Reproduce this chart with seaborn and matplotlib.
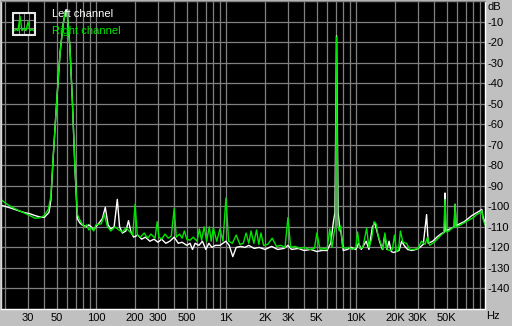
import matplotlib
matplotlib.use("Agg")
import matplotlib.pyplot as plt
import pandas as pd
import seaborn as sns

# ---------------- data ----------------
R_freq = [18.6, 20, 22, 25, 28, 31, 34, 37, 40, 43, 45, 47, 50, 53, 56, 58.5, 60, 63, 66, 69,
          72, 75, 78, 82, 85, 88, 92, 96, 100, 110, 116, 122, 130, 140, 150, 160, 170, 180,
          192, 200, 208, 220, 235, 250, 265, 285, 296, 305, 320, 340, 360, 380, 400, 415,
          440, 460, 479, 500, 530, 560, 600, 625, 650, 680, 710, 745, 770, 800, 850, 900,
          950, 1000, 1050, 1120, 1200, 1280, 1360, 1430, 1500, 1560, 1640, 1720, 1790, 1860,
          1950, 2100, 2270, 2450, 2650, 2850, 3000, 3150, 3400, 3700, 4000, 4400, 4800, 5010,
          5300, 5700, 6000, 6300, 6550, 6800, 6950, 7100, 7250, 7450, 7650, 7900, 8300, 8800,
          9400, 10000, 10300, 10700, 11300, 12100, 12600, 13200, 13800, 14300, 14800, 15500,
          16200, 16700, 17400, 18300, 19100, 19800, 20500, 21300, 22000, 23000, 24500, 26000,
          28000, 30000, 32000, 34000, 35600, 37000, 40000, 43000, 46000, 47500, 48500, 49500,
          52000, 55000, 57000, 58000, 59000, 62000, 66000, 70000, 75000, 80000, 85000, 88000,
          91000, 93000, 95000, 98500]
R_db = [-96.7, -98.3, -100, -101.8, -103.2, -104.5, -105.8, -105.6, -104.5, -101.5, -95, -75,
        -48, -25, -11, -5, -5.5, -22, -50, -82, -104, -106.5, -108.5, -110, -109, -111.5,
        -110.5, -112, -109, -108.5, -104, -109.5, -112, -110, -111.5, -112.5, -110.5, -112,
        -114, -99, -114, -115, -113, -115.5, -113.5, -115.5, -107.5, -115, -116, -113.5,
        -115.5, -114.5, -101, -115, -113.5, -115.5, -112, -116, -116.5, -115, -117, -111,
        -116.5, -110, -117, -110, -117, -110.5, -117, -111, -117, -96, -117, -118, -114,
        -118.5, -118, -113, -118, -112, -118, -111.5, -118.5, -113, -119, -118.5, -115.5,
        -119.5, -119, -120, -105.5, -120, -119.5, -120.5, -120, -121, -120.5, -113, -121,
        -120.5, -121, -111, -120, -113, -110, -17.5, -109, -112, -109.5, -120, -120.5, -120,
        -121, -120, -112.5, -120.5, -120, -110.7, -120, -116, -107.5, -108.5, -114, -118,
        -121, -113, -121, -121.5, -121, -114, -122, -121, -112, -117.5, -118, -121, -121,
        -120.5, -117, -118.5, -115, -119, -117.5, -115.5, -113.5, -113, -96.6, -112.5, -112,
        -110.5, -110, -99, -110, -109.5, -108.5, -107.5, -106.5, -105.5, -104, -103.5, -103,
        -102, -106, -109]

L_freq = [18.6, 20, 22, 25, 28, 31, 34, 37, 40, 42, 43.5, 45, 47, 50, 53, 56, 58.5, 60, 63, 66,
          69, 72, 75, 78, 82, 85, 88, 92, 96, 100, 106, 112, 118, 124, 130, 138, 146, 152, 160,
          170, 178, 186, 195, 210, 225, 240, 260, 280, 300, 320, 345, 370, 400, 430, 460, 500,
          530, 553, 580, 620, 660, 700, 740, 780, 830, 900, 950, 1000, 1060, 1130, 1200, 1300,
          1400, 1500, 1650, 1800, 2000, 2250, 2500, 2800, 3000, 3200, 3600, 4000, 4500, 5000,
          5500, 6000, 6400, 6700, 6900, 7100, 7300, 7500, 7700, 8000, 8600, 9200, 10000, 10500,
          11000, 12000, 12600, 13400, 14000, 14500, 15200, 16000, 16700, 17300, 18000, 18700,
          19500, 20500, 21500, 22500, 23500, 25000, 27000, 29000, 31000, 33000, 35000, 36000,
          39000, 42000, 45000, 48000, 48500, 49200, 53000, 57000, 58000, 59000, 63000, 68000,
          73000, 78000, 83000, 88000, 91000, 93000, 95000, 98500]
L_db = [-99.5, -100, -100.8, -102, -103, -103.6, -104.5, -105.2, -105.4, -104, -103, -97, -75,
        -48, -25, -11, -4.5, -5, -22, -50, -82, -106, -108, -109, -109.5, -110, -109, -110,
        -111.5, -110, -108, -106, -100.5, -109, -111, -110, -96.6, -110, -113, -112, -107,
        -112.5, -115, -114, -116, -115, -117, -116, -117.5, -116, -118, -117, -115, -118,
        -117.5, -119, -118, -121, -118, -119, -117, -121, -118, -120, -119, -119, -118, -117,
        -119, -124.5, -120, -119.5, -120, -119, -120.5, -120, -121, -119.5, -121, -120.5,
        -119, -121, -120.5, -121.5, -121, -122, -121.5, -121.5, -118, -108, -103, -17, -103,
        -110, -113, -121.5, -121, -120, -121, -118, -121, -117, -121, -110, -108, -112, -117,
        -121, -114, -121, -117, -122, -122.5, -122, -121.5, -117, -119, -121, -121.5, -121,
        -120, -118.5, -104, -118, -117, -115, -113.5, -112.5, -93.5, -112, -111, -110, -99,
        -109.5, -108.5, -107.5, -106, -104.5, -103.5, -102.5, -102, -101.5, -105, -108]

x_grid = [20, 30, 40, 50, 60, 70, 80, 90, 100, 200, 300, 400, 500, 600, 700, 800, 900,
          1000, 2000, 3000, 4000, 5000, 6000, 7000, 8000, 9000, 10000, 20000, 30000, 40000,
          50000, 60000, 70000, 80000, 90000]
x_labels = {30: "30", 50: "50", 100: "100", 200: "200", 300: "300", 500: "500",
            1000: "1K", 2000: "2K", 3000: "3K", 5000: "5K", 10000: "10K",
            20000: "20K", 30000: "30K", 50000: "50K"}
y_ticks = [-10, -20, -30, -40, -50, -60, -70, -80, -90, -100, -110, -120, -130, -140]
series_names = ["Left channel", "Right channel"]
icon_y = [0.2, 0.25, 0.2, 0.85, 0.2, 0.3, 0.2, 0.6, 0.2, 0.25, 0.2]

# ---------------- styling ----------------
sns.set_theme(style="dark")
plt.rcParams["font.family"] = ["Liberation Sans", "DejaVu Sans"]

BG = "#c0c0c0"
GRID = "#808080"
WHITE = "#ffffff"
GREEN = "#00e600"

W, H = 512, 326
fig = plt.figure(figsize=(W / 100, H / 100), dpi=100, facecolor=BG)
ax = fig.add_axes([1 / W, 17 / H, 484 / W, 308 / H])
ax.set_facecolor("black")
ax.set_xscale("log")

df_L = pd.DataFrame({"freq": L_freq, "db": L_db})
df_R = pd.DataFrame({"freq": R_freq, "db": R_db})
sns.lineplot(data=df_L, x="freq", y="db", ax=ax, color=WHITE, lw=1.0, estimator=None)
sns.lineplot(data=df_R, x="freq", y="db", ax=ax, color=GREEN, lw=1.0, estimator=None)

ax.set_xlim(18.6, 98500)
ax.set_ylim(-150, 0)
ax.set_xticks(x_grid, labels=[x_labels.get(v, "") for v in x_grid])
ax.xaxis.set_minor_locator(matplotlib.ticker.NullLocator())
ax.set_yticks(y_ticks, labels=[str(v) for v in y_ticks])
ax.yaxis.tick_right()
ax.tick_params(axis="both", length=0, labelsize=8, labelcolor="black")
ax.tick_params(axis="x", pad=3)
ax.tick_params(axis="y", pad=2)
ax.set_xlabel("")
ax.set_ylabel("")
ax.grid(True, color=GRID, lw=0.9)
ax.set_axisbelow(True)
ax.spines["top"].set_color(GRID)
ax.spines["left"].set_color("#d8d8d8")
for side in ["right", "bottom"]:
    ax.spines[side].set_color(WHITE)
for s in ax.spines.values():
    s.set_visible(True)
    s.set_linewidth(1.0)

fig.text(487 / W, 1 - 7 / H, "dB", fontsize=8, color="black", va="center", ha="left")
fig.text(486 / W, 1 - 316 / H, "Hz", fontsize=8, color="black", va="center", ha="left")

# legend
fig.text(52 / W, 1 - 14 / H, series_names[0], fontsize=8, color=WHITE, va="center", ha="left")
fig.text(52 / W, 1 - 31 / H, series_names[1], fontsize=8, color=GREEN, va="center", ha="left")

icon = fig.add_axes([13 / W, (H - 35) / H, 22 / W, 22 / H])
icon.set_facecolor("black")
icon.plot(range(len(icon_y)), icon_y, color=GREEN, lw=1.0)
icon.set_xlim(-0.5, len(icon_y) - 0.5)
icon.set_ylim(0, 1)
icon.set_xticks([2.5, 5, 7.5], labels=[])
icon.set_yticks([0.33, 0.66], labels=[])
icon.tick_params(length=0)
icon.grid(True, color=GRID, lw=0.8)
icon.set_axisbelow(True)
for s in icon.spines.values():
    s.set_visible(True)
    s.set_color("#e8e8e8")
    s.set_linewidth(1.5)
    s.set_capstyle("round")

fig.savefig("out.png", dpi=100, facecolor=BG)
